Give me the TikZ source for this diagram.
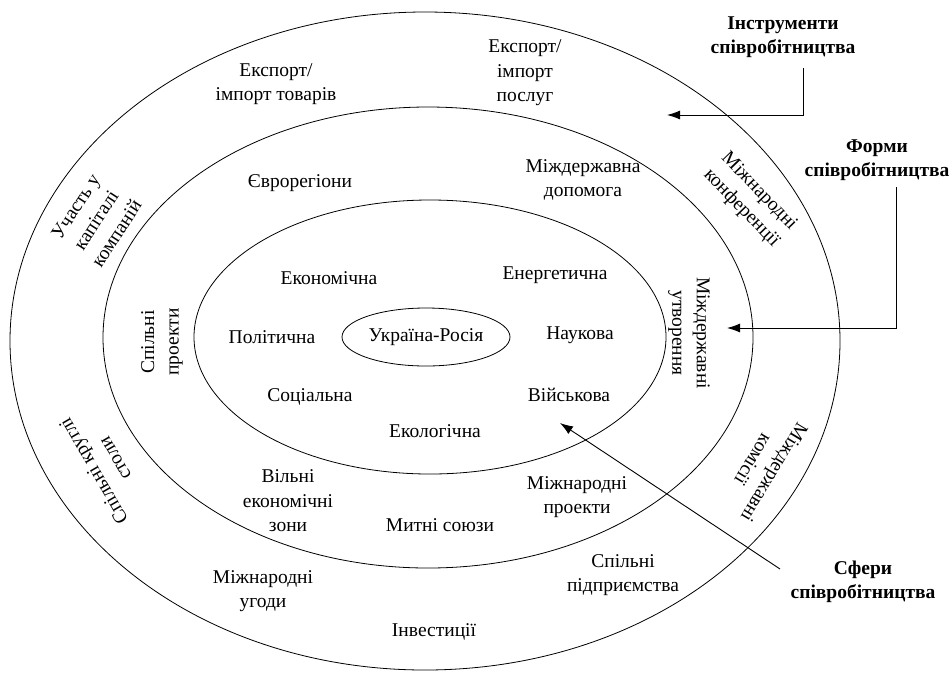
\documentclass[tikz,border=0pt]{standalone}
\usepackage{fontspec}
\setmainfont{Liberation Serif}
\newfontfamily\tnr{Liberation Serif}
\usetikzlibrary{shapes.geometric,arrows.meta}
\begin{document}
\begin{tikzpicture}[x=1pt,y=-1pt,
  ring/.style={draw, ellipse, inner sep=0pt, line width=0.8pt},
  lbl/.style={align=center, inner sep=0pt, font=\tnr\fontsize{19.5}{24.5}\selectfont},
  head/.style={align=center, inner sep=0pt, font=\tnr\fontsize{19.5}{24.5}\selectfont\bfseries},
  conn/.style={line width=0.9pt, -{Latex[length=13pt,width=9pt]}}
]
\useasboundingbox (0,0) rectangle (952,673);

% rings
\node[ring, minimum width=830pt, minimum height=658pt] (outer) at (425,341) {};
\node[ring, minimum width=650pt, minimum height=461pt] (middle) at (428,337.5) {};
\node[ring, minimum width=472pt, minimum height=274pt] (inner) at (430,337) {};
\node[ring, minimum width=168pt, minimum height=58pt] (core) at (426,337) {};
\node[lbl] (ukr) at (426,337) {Україна-Росія};

% spheres (inner ring)
\node[lbl] (econ) at (329,278) {Економічна};
\node[lbl] (energ) at (555,275) {Енергетична};
\node[lbl] (polit) at (272,337) {Політична};
\node[lbl] (nauk) at (580,335) {Наукова};
\node[lbl] (soc) at (310,397) {Соціальна};
\node[lbl] (mil) at (569,395) {Військова};
\node[lbl] (ecol) at (435,431) {Екологічна};

% forms (middle ring)
\node[lbl] (euro) at (300,183) {Єврорегіони};
\node[lbl] (help) at (583,180) {Міждержавна\\допомога};
\node[lbl, rotate=90] (jproj) at (162,342) {Спільні\\проекти};
\node[lbl, rotate=-90] (mform) at (689,333) {Міждержавні\\утворення};
\node[lbl] (fez) at (288,501) {Вільні\\економічні\\зони};
\node[lbl] (cust) at (440,525) {Митні союзи};
\node[lbl] (iproj) at (577,497) {Міжнародні\\проекти};

% instruments (outer ring)
\node[lbl] (expg) at (276,84) {Експорт/\\імпорт товарів};
\node[lbl] (exps) at (525,73) {Експорт/\\імпорт\\послуг};
\node[lbl, rotate=57] (cap) at (96,220) {Участь у\\капіталі\\компаній};
\node[lbl, rotate=120] (round) at (104,465) {Спільні круглі\\столи};
\node[lbl, rotate=-46] (conf) at (750,200) {Міжнародні\\конференції};
\node[lbl, rotate=-121] (comm) at (764,466) {Міждержавні\\комісії};
\node[lbl] (agr) at (263,591) {Міжнародні\\угоди};
\node[lbl] (jv) at (623,575) {Спільні\\підприємства};
\node[lbl] (inv) at (434,632) {Інвестиції};

% headings
\node[head] (hinstr) at (783,37) {Інструменти\\співробітництва};
\node[head] (hform) at (877,160) {Форми\\співробітництва};
\node[head] (hsph) at (863,582) {Сфери\\співробітництва};

% connector ends
\coordinate (i0) at (803,68);
\coordinate (i1) at (803,115);
\coordinate (it) at (667,115);
\coordinate (f0) at (896,187);
\coordinate (f1) at (896,328);
\coordinate (ft) at (727,328);
\coordinate (s0) at (780,569);
\coordinate (st) at (560,423);

\draw[conn] (i0) -- (i1) -- (it);
\draw[conn] (f0) -- (f1) -- (ft);
\draw[conn] (s0) -- (st);
\end{tikzpicture}
\end{document}
